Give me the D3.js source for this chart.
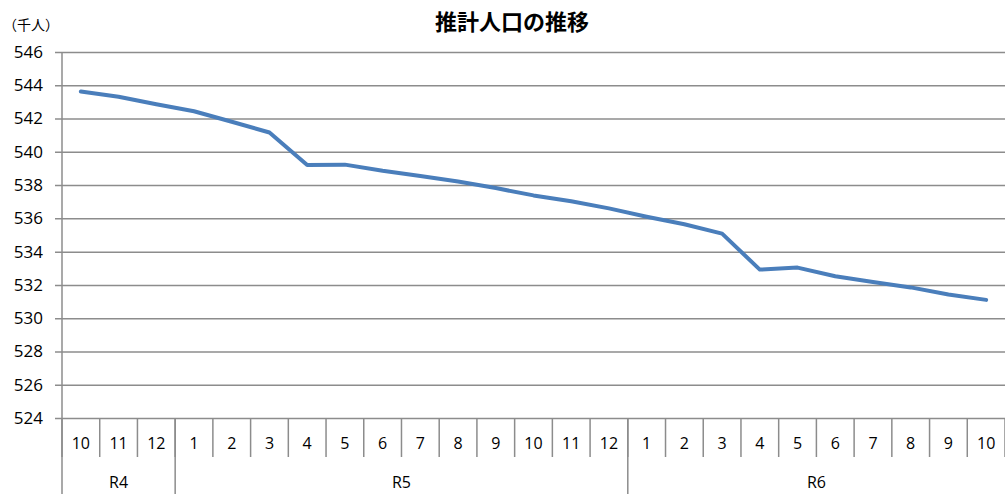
<!DOCTYPE html>
<html>
<head>
<meta charset="utf-8">
<script src="https://cdn.jsdelivr.net/npm/d3@7"></script>
<style>
  body { margin: 0; background: #fff; }
  svg text { font-family: "Open Sans", "Noto Sans", sans-serif; fill: #000; }
</style>
</head>
<body>
<div id="chart"></div>
<script>
// Data
const months = ['10', '11', '12', '1', '2', '3', '4', '5', '6', '7', '8', '9', '10', '11', '12',
    '1', '2', '3', '4', '5', '6', '7', '8', '9', '10'];
const eras = [
    { label: 'R4', count: 3 },
    { label: 'R5', count: 12 },
    { label: 'R6', count: 10 }
];
const population = [543.62, 543.31, 542.86, 542.44, 541.81, 541.16, 539.21, 539.23, 538.86, 538.55,
    538.21, 537.82, 537.38, 537.03, 536.6, 536.1, 535.65, 535.08, 532.92, 533.04,
    532.52, 532.18, 531.85, 531.42, 531.1];
const yTicks = d3.range(524, 547, 2);

const chart = {
    totalWidth: 1005,
    totalHeight: 494,
    margin: { top: 52, left: 62, right: 0, bottom: 76 }
};
chart.width = chart.totalWidth - chart.margin.left - chart.margin.right;
chart.height = chart.totalHeight - chart.margin.top - chart.margin.bottom;

const svg = d3.select('#chart')
    .append('svg')
    .attr('width', chart.totalWidth)
    .attr('height', chart.totalHeight);

const g = svg.append('g')
    .attr('transform', `translate(${chart.margin.left}, ${chart.margin.top})`);

// Scales
const xScale = d3.scaleBand()
    .domain(d3.range(months.length))
    .range([0, chart.width]);

const yScale = d3.scaleLinear()
    .domain([524, 546])
    .range([chart.height, 0]);

// Y-axis with gridlines (drawn from the right edge leftwards, past the axis by 7px)
const yAxis = d3.axisLeft(yScale)
    .tickValues(yTicks)
    .tickSize(chart.width + 7)
    .tickPadding(12);

g.append('g')
    .classed('y-axis', true)
    .attr('transform', `translate(${chart.width}, 0)`)
    .call(yAxis)
    .call(s => s.select('.domain').remove())
    .call(s => s.selectAll('line').attr('stroke', '#8c8c8c').attr('stroke-width', 1.5))
    .call(s => s.selectAll('text')
        .attr('x', -chart.width - 19)
        .style('font-size', '17px'));

// vertical axis line
g.append('line')
    .attr('x1', 0).attr('x2', 0)
    .attr('y1', 0).attr('y2', chart.height)
    .attr('stroke', '#8c8c8c')
    .attr('stroke-width', 1.5);

// X-axis: months
const xAxisG = g.append('g')
    .classed('x-axis', true)
    .attr('transform', `translate(0, ${chart.height})`);

xAxisG.selectAll('line.sep')
    .data(d3.range(months.length + 1))
    .enter()
    .append('line')
    .classed('sep', true)
    .attr('x1', d => d < months.length ? xScale(d) : chart.width)
    .attr('x2', d => d < months.length ? xScale(d) : chart.width)
    .attr('y1', 0)
    .attr('y2', 39)
    .attr('stroke', '#8c8c8c')
    .attr('stroke-width', 1.5);

xAxisG.selectAll('text.month')
    .data(months)
    .enter()
    .append('text')
    .classed('month', true)
    .attr('x', (d, i) => xScale(i) + xScale.bandwidth() / 2)
    .attr('y', 31)
    .attr('text-anchor', 'middle')
    .style('font-size', '16px')
    .text(d => d);

// Era groups
let start = 0;
eras.forEach(e => {
    e.start = start;
    start += e.count;
});

xAxisG.selectAll('line.era')
    .data(eras)
    .enter()
    .append('line')
    .classed('era', true)
    .attr('x1', d => xScale(d.start))
    .attr('x2', d => xScale(d.start))
    .attr('y1', 0)
    .attr('y2', chart.margin.bottom)
    .attr('stroke', '#8c8c8c')
    .attr('stroke-width', 1.5);

xAxisG.selectAll('text.era')
    .data(eras)
    .enter()
    .append('text')
    .classed('era', true)
    .attr('x', d => xScale(d.start) + xScale.bandwidth() * d.count / 2)
    .attr('y', 70)
    .attr('text-anchor', 'middle')
    .style('font-size', '16px')
    .text(d => d.label);

// Line
const line = d3.line()
    .x((d, i) => xScale(i) + xScale.bandwidth() / 2)
    .y(d => yScale(d));

g.append('path')
    .datum(population)
    .attr('fill', 'none')
    .attr('stroke', '#4a7ebb')
    .attr('stroke-width', 4)
    .attr('stroke-linejoin', 'round')
    .attr('stroke-linecap', 'round')
    .attr('d', line);

// Title and unit
svg.append('text')
    .attr('x', 512)
    .attr('y', 30)
    .attr('text-anchor', 'middle')
    .style('font-family', '"Noto Sans CJK JP", sans-serif')
    .style('font-weight', 'bold')
    .style('font-size', '22px')
    .text('推計人口の推移');

svg.append('text')
    .attr('x', 3)
    .attr('y', 30)
    .style('font-family', '"Noto Sans CJK JP", sans-serif')
    .style('font-size', '14px')
    .text('（千人）');
</script>
</body>
</html>
